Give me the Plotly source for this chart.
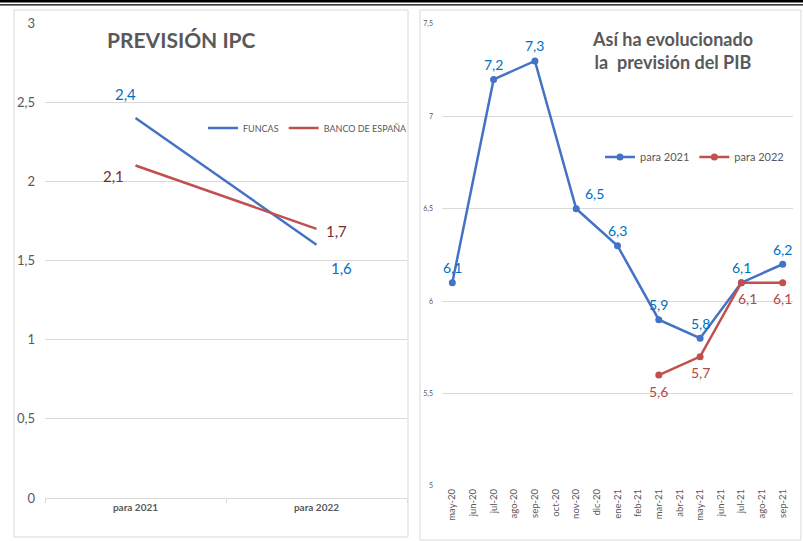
import plotly.graph_objects as go

W, H = 803, 541

# ---- Left chart data (IPC) ----
ipc_cats = ["para 2021", "para 2022"]
ipc_funcas = [2.4, 1.6]
ipc_bde = [2.1, 1.7]

# ---- Right chart data (PIB) ----
pib_months = ["may-20", "jun-20", "jul-20", "ago-20", "sep-20", "oct-20", "nov-20", "dic-20",
              "ene-21", "feb-21", "mar-21", "abr-21", "may-21", "jun-21", "jul-21", "ago-21", "sep-21"]
pib_2021 = [6.1, None, 7.2, None, 7.3, None, 6.5, None, 6.3, None, 5.9, None, 5.8, None, 6.1, None, 6.2]
pib_2022 = [None, None, None, None, None, None, None, None, None, None, 5.6, None, 5.7, None, 6.1, None, 6.1]

BLUE = "#4472C4"
RED = "#C0504D"
LBLUE = "#0070C0"
GRAY = "#595959"
GRID = "#D9D9D9"
FONT = "Lato, Carlito, Calibri, sans-serif"


def fmt(v):
    return f"{v:.1f}".replace(".", ",")


def px_x(p):
    return p / W


def px_y(p):
    return 1 - p / H


fig = go.Figure()

fig.add_trace(go.Scatter(x=ipc_cats, y=ipc_funcas, mode="lines", name="FUNCAS",
                         line=dict(color=BLUE, width=2.5), xaxis="x", yaxis="y", legend="legend"))
fig.add_trace(go.Scatter(x=ipc_cats, y=ipc_bde, mode="lines", name="BANCO DE ESPAÑA",
                         line=dict(color=RED, width=2.5), xaxis="x", yaxis="y", legend="legend"))

fig.add_trace(go.Scatter(x=pib_months, y=pib_2021, mode="lines+markers", name="para 2021",
                         connectgaps=True, line=dict(color=BLUE, width=2.5),
                         marker=dict(size=7, color=BLUE), xaxis="x2", yaxis="y2", legend="legend2"))
fig.add_trace(go.Scatter(x=pib_months, y=pib_2022, mode="lines+markers", name="para 2022",
                         connectgaps=True, line=dict(color=RED, width=2.5),
                         marker=dict(size=7, color=RED), xaxis="x2", yaxis="y2", legend="legend2"))

ann = []
# left labels
left_offsets_f = [(-10, 24), (25, -23)]
left_offsets_b = [(-22, -10), (20, -2)]
for c, v, (dx, dy) in zip(ipc_cats, ipc_funcas, left_offsets_f):
    ann.append(dict(x=c, y=v, xref="x", yref="y", text=fmt(v), showarrow=False, xshift=dx, yshift=dy,
                    font=dict(size=15, color=LBLUE, family=FONT)))
for c, v, (dx, dy) in zip(ipc_cats, ipc_bde, left_offsets_b):
    ann.append(dict(x=c, y=v, xref="x", yref="y", text=fmt(v), showarrow=False, xshift=dx, yshift=dy,
                    font=dict(size=15, color="#7A2B2B", family=FONT)))

# right labels
for c, v in zip(pib_months, pib_2021):
    if v is None:
        continue
    dx = 18 if c == "nov-20" else 0
    ann.append(dict(x=c, y=v, xref="x2", yref="y2", text=fmt(v), showarrow=False, xshift=dx, yshift=15,
                    font=dict(size=14, color=LBLUE, family=FONT)))
for c, v in zip(pib_months, pib_2022):
    if v is None:
        continue
    dx = 6 if c == "jul-21" else 0
    ann.append(dict(x=c, y=v, xref="x2", yref="y2", text=fmt(v), showarrow=False, xshift=dx, yshift=-16,
                    font=dict(size=14, color="#B04A47", family=FONT)))

# titles
ann.append(dict(x=px_x(181), y=px_y(39), xref="paper", yref="paper", text="<b>PREVISIÓN IPC</b>",
                xanchor="center", yanchor="middle",
                showarrow=False, font=dict(size=21, color=GRAY, family=FONT)))
ann.append(dict(x=px_x(672), y=px_y(50), xref="paper", yref="paper",
                text="<b>Así ha evolucionado<br>la\u00a0\u00a0previsión del PIB</b>",
                xanchor="center", yanchor="middle",
                showarrow=False, font=dict(size=18, color=GRAY, family=FONT)))

shapes = [
    dict(type="rect", xref="paper", yref="paper", x0=px_x(14), x1=px_x(408), y0=px_y(537), y1=px_y(10),
         line=dict(color=GRID, width=1)),
    dict(type="rect", xref="paper", yref="paper", x0=px_x(420), x1=px_x(801), y0=px_y(540), y1=px_y(10),
         line=dict(color=GRID, width=1)),
    # double rule along the top edge
    dict(type="rect", xref="paper", yref="paper", x0=0, x1=1, y0=px_y(2.6), y1=1,
         fillcolor="black", line=dict(width=0), layer="above"),
    dict(type="rect", xref="paper", yref="paper", x0=0, x1=1, y0=px_y(5.6), y1=px_y(4.3),
         fillcolor="black", line=dict(width=0), layer="above"),
]

fig.update_layout(
    width=W, height=H,
    margin=dict(l=0, r=0, t=0, b=0, autoexpand=False),
    paper_bgcolor="white", plot_bgcolor="white",
    separators=",.",
    font=dict(family=FONT, color=GRAY),
    annotations=ann,
    shapes=shapes,
    xaxis=dict(domain=[px_x(45), px_x(407)], range=[-0.5, 1.5], type="category",
               tickvals=ipc_cats, ticktext=[f"<b>{c}</b>" for c in ipc_cats],
               tickfont=dict(size=10, color=GRAY), showgrid=False, showline=True, linecolor=GRID,
               ticks="outside", tickson="boundaries", tickcolor=GRID, ticklen=4, zeroline=False,
               automargin=False),
    yaxis=dict(domain=[px_y(498), px_y(23)], range=[0, 3], dtick=0.5, tickfont=dict(size=13, color=GRAY),
               showgrid=True, gridcolor=GRID, zeroline=False, showline=False, ticklabelstandoff=9,
               automargin=False),
    xaxis2=dict(domain=[px_x(442), px_x(793)], range=[-0.5, 16.5], type="category",
                tickangle=-90, tickfont=dict(size=9.5, color=GRAY), showgrid=False, showline=False,
                ticks="", zeroline=False, anchor="y2", automargin=False),
    yaxis2=dict(domain=[px_y(486), px_y(24)], range=[5, 7.5], dtick=0.5, tickfont=dict(size=7, color=GRAY),
                showgrid=True, gridcolor=GRID, zeroline=False, showline=False, anchor="x2",
                ticklabelstandoff=8, automargin=False),
    legend=dict(orientation="h", x=px_x(203), y=px_y(128), xanchor="left", yanchor="middle",
                font=dict(size=9, color=GRAY), bgcolor="rgba(0,0,0,0)", itemwidth=30, tracegroupgap=0),
    legend2=dict(orientation="h", x=px_x(600), y=px_y(157), xanchor="left", yanchor="middle",
                 font=dict(size=11, color=GRAY), bgcolor="rgba(0,0,0,0)", itemwidth=30),
)

fig.write_html("out.html", config={"displayModeBar": False},
               post_script="document.body.style.margin='0';")
